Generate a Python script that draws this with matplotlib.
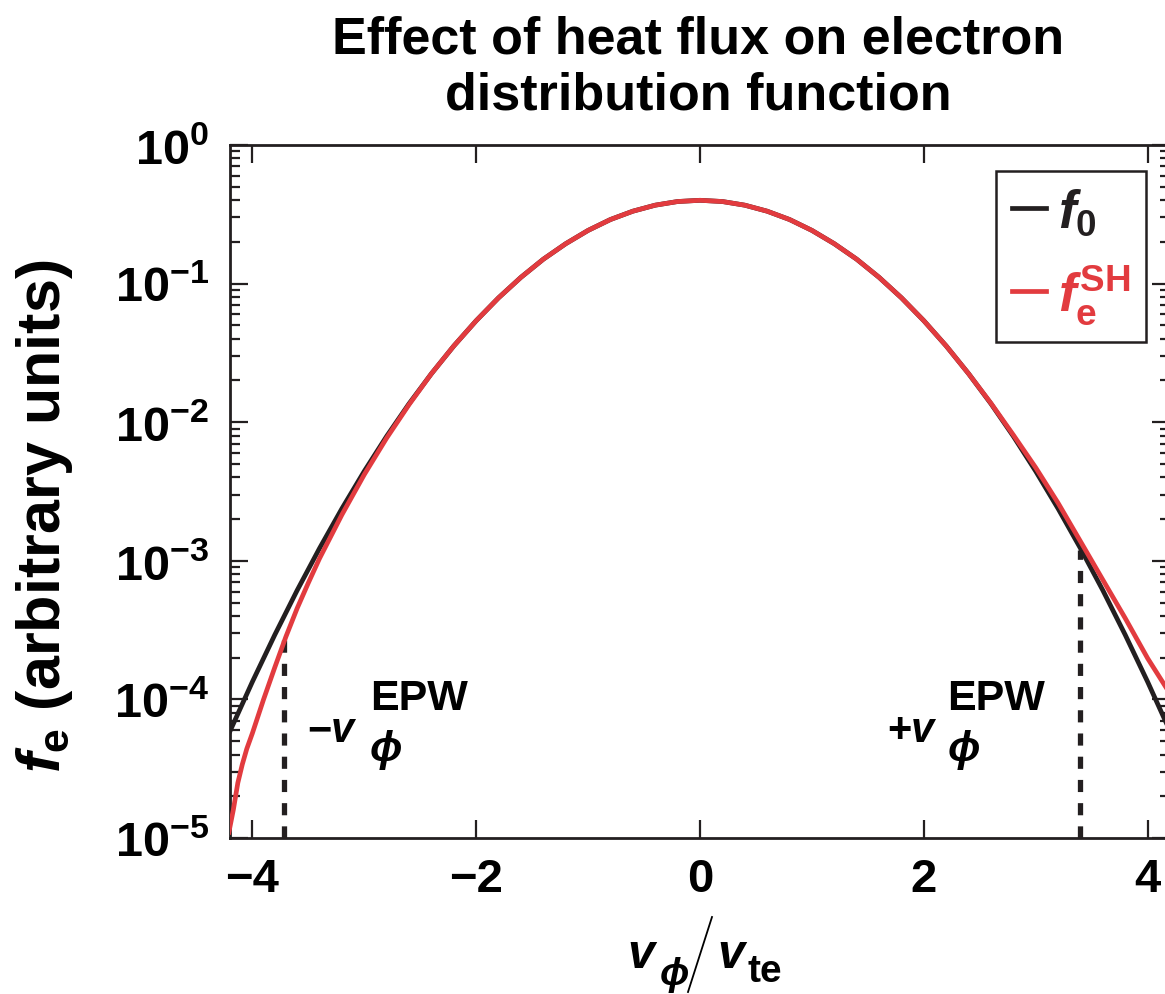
import matplotlib
matplotlib.use("Agg")
import matplotlib.pyplot as plt
from matplotlib.lines import Line2D
from matplotlib.ticker import LogLocator, NullFormatter

# velocity grid (v / v_te) and Maxwellian f0
v_f0 = [-4.2, -4.0, -3.8, -3.6, -3.4, -3.2, -3.0, -2.8, -2.6, -2.4, -2.2,
        -2.0, -1.8, -1.6, -1.4, -1.2, -1.0, -0.8, -0.6, -0.4, -0.2, 0.0,
        0.2, 0.4, 0.6, 0.8, 1.0, 1.2, 1.4, 1.6, 1.8, 2.0, 2.2, 2.4, 2.6,
        2.8, 3.0, 3.2, 3.4, 3.6, 3.8, 4.0, 4.2]
f0 = [5.90e-5, 1.34e-4, 2.92e-4, 6.12e-4, 1.23e-3, 2.38e-3, 4.43e-3, 7.92e-3,
      1.36e-2, 2.24e-2, 3.55e-2, 5.40e-2, 7.90e-2, 0.111, 0.150, 0.194, 0.242,
      0.290, 0.333, 0.368, 0.391, 0.399, 0.391, 0.368, 0.333, 0.290, 0.242,
      0.194, 0.150, 0.111, 7.90e-2, 5.40e-2, 3.55e-2, 2.24e-2, 1.36e-2,
      7.92e-3, 4.43e-3, 2.38e-3, 1.23e-3, 6.12e-4, 2.92e-4, 1.34e-4, 5.90e-5]

# Spitzer-Harm distribution (with heat flux)
v_sh = [-4.21, -4.17, -4.13, -4.09, -4.05, -4.0, -3.9, -3.8, -3.7, -3.6, -3.5,
        -3.4, -3.2, -3.0, -2.8, -2.6, -2.4, -2.2, -2.0, -1.8, -1.6, -1.4, -1.2,
        -1.0, -0.8, -0.6, -0.4, -0.2, 0.0, 0.2, 0.4, 0.6, 0.8, 1.0, 1.2, 1.4,
        1.6, 1.8, 2.0, 2.2, 2.4, 2.6, 2.8, 3.0, 3.2, 3.4, 3.6, 3.8, 4.0, 4.2]
f_sh = [1.10e-5, 1.60e-5, 2.50e-5, 3.40e-5, 4.40e-5, 5.70e-5, 1.00e-4, 1.70e-4,
        2.84e-4, 4.54e-4, 6.93e-4, 1.04e-3, 2.15e-3, 4.19e-3, 7.69e-3, 1.34e-2,
        2.24e-2, 3.55e-2, 5.40e-2, 7.90e-2, 0.111, 0.150, 0.194, 0.242, 0.290,
        0.333, 0.368, 0.391, 0.399, 0.391, 0.368, 0.333, 0.290, 0.242, 0.194,
        0.150, 0.111, 7.90e-2, 5.40e-2, 3.55e-2, 2.24e-2, 1.37e-2, 8.09e-3,
        4.70e-3, 2.61e-3, 1.38e-3, 7.28e-4, 3.85e-4, 1.98e-4, 1.10e-4]

# EPW phase velocities and where the markers stop
epw_v = [-3.72, 3.40]
epw_top = [2.8e-4, 1.2e-3]

x_ticks = [-4, -2, 0, 2, 4]
x_ticklabels = ["\u22124", "\u22122", "0", "2", "4"]
y_exponents = [-5, -4, -3, -2, -1, 0]

BLACK = "#231f20"
RED = "#e23b3f"
SANS = "Liberation Sans"

plt.rcParams["font.family"] = [SANS, "DejaVu Sans"]
plt.rcParams["font.weight"] = "bold"
plt.rcParams["mathtext.fontset"] = "custom"
plt.rcParams["mathtext.rm"] = f"{SANS}:bold"
plt.rcParams["mathtext.bf"] = f"{SANS}:bold"
plt.rcParams["mathtext.it"] = f"{SANS}:italic:bold"
plt.rcParams["mathtext.sf"] = f"{SANS}:bold"
plt.rcParams["mathtext.fallback"] = "stixsans"

W, H = 1165, 995
fig = plt.figure(figsize=(W / 100, H / 100), dpi=100)
ax = fig.add_axes([230 / W, (H - 839) / H, 940 / W, 693 / H])


def fxy(x, y):
    """pixel position (from top-left) -> figure fraction"""
    return x / W, 1 - y / H


ax.plot(v_f0, f0, color=BLACK, lw=3.4, label=r"$f_0$", zorder=3)
ax.plot(v_sh, f_sh, color=RED, lw=3.4, label=r"$f_{\rm e}^{\rm SH}$", zorder=4)

for v, top in zip(epw_v, epw_top):
    ax.plot([v, v], [1e-5, top], color=BLACK, lw=3.8,
            linestyle=(0, (2.3, 2.1)), zorder=2)

ax.set_yscale("log")
ax.set_xlim(-4.2, 4.2)
ax.set_ylim(1e-5, 1)

ax.set_xticks(x_ticks)
ax.set_xticklabels(x_ticklabels, fontweight="bold", fontsize=34)
ax.set_yticks([10.0 ** e for e in y_exponents])
ax.set_yticklabels([r"$\mathsf{10^{%d}}$" % e for e in y_exponents], fontsize=35)
ax.yaxis.set_minor_locator(LogLocator(base=10, subs=range(2, 10), numticks=20))
ax.yaxis.set_minor_formatter(NullFormatter())
ax.xaxis.set_minor_locator(plt.NullLocator())

ax.tick_params(which="both", direction="in", top=True, right=True,
               color=BLACK, width=1.6)
ax.tick_params(which="major", length=13.3)
ax.tick_params(which="minor", length=7.2)
ax.tick_params(axis="x", pad=14)
ax.tick_params(axis="y", pad=15)
for s in ax.spines.values():
    s.set_linewidth(2.0)
    s.set_color(BLACK)

ax.set_ylabel(r"$f_{\rm e}$ (arbitrary units)", fontsize=44, fontweight="bold")
ax.yaxis.set_label_coords(-0.165, 0.465)

# x label: v_phi / v_te with a thin tall slash
fig.text(*fxy(627, 968), "v", style="italic", fontsize=35, fontweight="bold",
         ha="left", va="baseline")
fig.text(*fxy(660, 985), "\u03d5", style="italic", fontsize=28, fontweight="bold",
         ha="left", va="baseline")
fig.add_artist(Line2D([712 / W, 688 / W], [1 - 918 / H, 1 - 993 / H],
                      transform=fig.transFigure, color="black", lw=1.3))
fig.text(*fxy(717, 968), "v", style="italic", fontsize=35, fontweight="bold",
         ha="left", va="baseline")
fig.text(*fxy(747, 982), "te", fontsize=28, fontweight="bold",
         ha="left", va="baseline")

fig.text(*fxy(698, 16), "Effect of heat flux on electron\ndistribution function",
         ha="center", va="top", fontsize=37.5, fontweight="bold", linespacing=1.16)

leg = ax.legend(loc="upper right", bbox_to_anchor=(0.9745, 0.9625), borderaxespad=0,
                fontsize=38, handlelength=0.65, handletextpad=0.22, labelspacing=0.47,
                borderpad=0.3, fancybox=False, frameon=True, framealpha=1)
leg.get_frame().set_edgecolor(BLACK)
leg.get_frame().set_linewidth(1.8)
for txt, col in zip(leg.get_texts(), [BLACK, RED]):
    txt.set_color(col)

# EPW phase-velocity annotations
ann_kw = dict(ha="left", va="baseline", fontweight="bold", color="black")
for sign, x_v, x_sup in [("\u2212", -3.512, -2.95), ("+", 1.676, 2.212)]:
    ax.text(x_v, 5.0e-5, sign, fontsize=30, **ann_kw)
    ax.text(x_v + 0.21, 5.0e-5, "v", style="italic", fontsize=30, **ann_kw)
    ax.text(x_sup, 8.5e-5, "EPW", fontsize=31, **ann_kw)
    ax.text(x_sup, 3.65e-5, "\u03d5", style="italic", fontsize=31, **ann_kw)

fig.savefig("out.png", dpi=100)
